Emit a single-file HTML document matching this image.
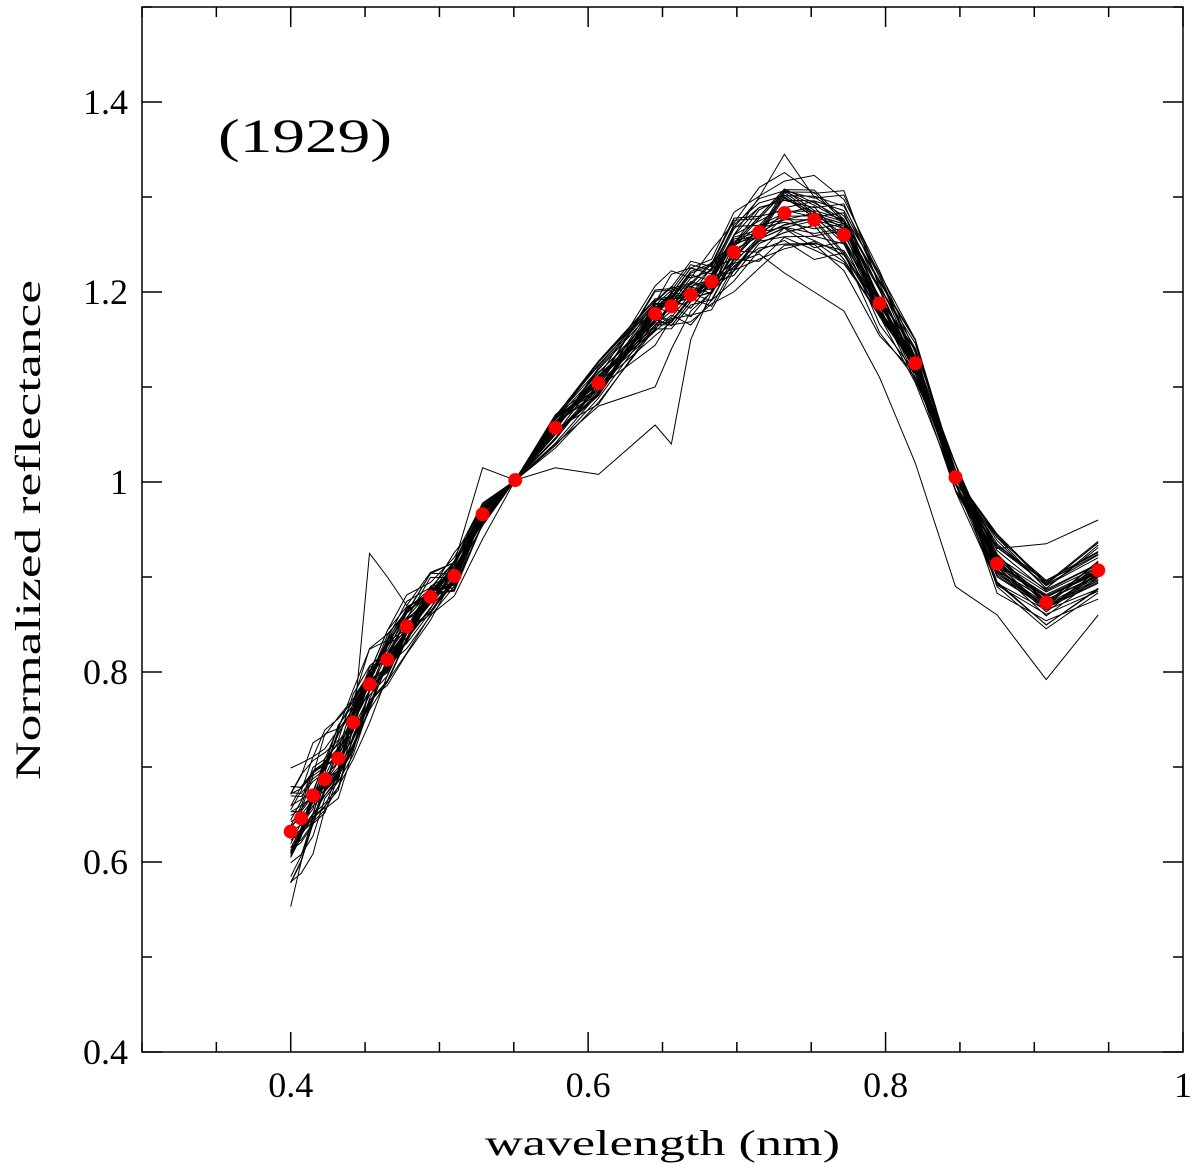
<!DOCTYPE html>
<html><head><meta charset="utf-8"><style>
html,body{margin:0;padding:0;background:#fff;}
svg{display:block;font-family:"Liberation Serif","DejaVu Serif",serif;}
</style></head><body>
<svg id="chart" width="1200" height="1174" viewBox="0 0 1200 1174" xmlns="http://www.w3.org/2000/svg">
<g id="spectra"></g>
<g id="means"></g>
<g id="axes"></g>
<text x="218" y="152" font-size="48" textLength="174" lengthAdjust="spacingAndGlyphs" fill="#000">(1929)</text>
<text x="485" y="1155" font-size="36" textLength="355" lengthAdjust="spacingAndGlyphs" fill="#000">wavelength (nm)</text>
<text transform="translate(40,780) rotate(-90)" font-size="36" textLength="500" lengthAdjust="spacingAndGlyphs" fill="#000">Normalized reflectance</text>
</svg>
<script>
const wavelengths=[0.400,0.407,0.415,0.423,0.432,0.442,0.453,0.465,0.478,0.494,0.510,0.529,0.551,0.578,0.607,0.645,0.656,0.669,0.683,0.698,0.715,0.732,0.752,0.772,0.796,0.820,0.847,0.875,0.908,0.943];
const meanReflectance=[0.632,0.646,0.670,0.687,0.709,0.747,0.787,0.813,0.848,0.879,0.901,0.966,1.002,1.057,1.104,1.177,1.185,1.197,1.211,1.242,1.263,1.283,1.276,1.260,1.188,1.125,1.005,0.914,0.873,0.907];
const spectrumScales=[-0.08,-0.05,-0.03,-0.02,-0.01,0,0.01,0.02,0.03,0.04,0.05,0.07,-0.06,-0.04,0.02,0.06,-0.02,0.0,0.03,-0.07,0.08,-0.03,0.01,0.04,-0.01,0.05,-0.05,0.02,0.0,-0.04,0.015,-0.015,0.035,-0.035,0.045,-0.045,0.025,-0.025,0.005,-0.005];
const noiseRows=[
[2,1,-1,1,0,-2,1,0,-1,1,0,1,0,1,-1,2,1,0,1,-1,0,1,2,0,-1,1,-2,1,2,1],
[-3,-2,0,-1,1,0,-1,2,1,-1,1,0,0,-1,1,-1,0,2,-1,1,1,-1,0,1,2,-1,1,-1,-2,-1],
[1,2,1,0,-1,1,0,-1,0,2,-1,-1,0,1,2,0,-1,1,0,2,-1,0,-1,-1,1,2,0,2,1,2],
[-1,0,2,1,1,-1,-2,1,2,0,1,1,0,-2,-1,1,2,-1,1,0,2,1,-1,2,-1,0,1,-1,0,-1],
[0,-1,-2,2,0,1,2,0,-1,-1,2,-1,0,0,1,-2,1,0,-1,1,0,-1,1,0,1,-1,-1,0,-1,0],
[3,1,0,-1,2,0,-1,1,1,0,-2,0,0,2,0,1,-1,1,2,-1,1,0,2,-1,0,1,2,1,2,1],
[-2,-1,1,0,-1,2,1,-1,0,1,1,-1,0,-1,-2,0,1,-1,0,1,-1,2,0,1,-2,0,-1,-2,-1,-2],
[1,0,-1,2,1,-1,0,2,-1,-1,0,1,0,1,1,-1,0,2,-1,0,1,-1,-1,2,1,-1,0,1,1,0]
];
const outlierA=[0.553,0.600,0.650,0.690,0.720,0.740,0.925,0.900,0.870,0.905,0.915,1.015,1.002,1.015,1.008,1.060,1.040,1.150,1.200,1.230,1.240,1.220,1.200,1.180,1.110,1.020,0.890,0.860,0.792,0.860];
const outlierB=[0.610,0.630,0.650,0.670,0.690,0.720,0.760,0.790,0.820,0.860,0.880,0.940,1.002,1.040,1.080,1.100,1.140,1.180,1.200,1.260,1.300,1.345,1.300,1.280,1.220,1.150,1.010,0.930,0.935,0.960];
const xTicks=[0.4,0.6,0.8,1.0];
const xTickLabels=["0.4","0.6","0.8","1"];
const yTicks=[0.4,0.6,0.8,1.0,1.2,1.4];
const yTickLabels=["0.4","0.6","0.8","1","1.2","1.4"];
const L=142,R=1183,T=7,B=1052;
const X=v=>L+(v-0.3)/0.7*(R-L);
const Y=v=>B-(v-0.4)/1.1*(B-T);
const NS="http://www.w3.org/2000/svg";
function mk(tag,attrs,parent){const e=document.createElementNS(NS,tag);for(const k in attrs)e.setAttribute(k,attrs[k]);parent.appendChild(e);return e;}
const sg=document.getElementById('spectra');
function drawLine(vals,name){
  const d=vals.map((v,i)=>(i?'L':'M')+X(wavelengths[i]).toFixed(1)+' '+Y(v).toFixed(1)).join(' ');
  const p=mk('path',{d:d,fill:'none',stroke:'#000','stroke-width':'1'},sg);
  
  
}
spectrumScales.forEach((s,k)=>{
  const nr=noiseRows[k%noiseRows.length];
  const vals=meanReflectance.map((m,i)=>m+s*(m-1)*1.8+(i===12?0:nr[i]*0.007)+(i>=27?s*0.5:0));
  drawLine(vals,'spectrum-line');
});
drawLine(outlierA,'spectrum-outlier');
drawLine(outlierB,'spectrum-outlier');
const mg=document.getElementById('means');
meanReflectance.forEach((v,i)=>{
  const c=mk('circle',{cx:X(wavelengths[i]),cy:Y(v),r:7,fill:'#ff0000'},mg);
  
  
});
const ag=document.getElementById('axes');
const fr=mk('rect',{x:L,y:T,width:R-L,height:B-T,fill:'none',stroke:'#000','stroke-width':'1.5'},ag);


for(let i=0;i<=14;i++){
  const v=0.3+i*0.05,x=X(v),len=(i%4===2)?20:10;
  mk('line',{x1:x,y1:B,x2:x,y2:B-len,stroke:'#000','stroke-width':'1.5'},ag);
  mk('line',{x1:x,y1:T,x2:x,y2:T+len,stroke:'#000','stroke-width':'1.5'},ag);
}
for(let i=0;i<=11;i++){
  const v=0.4+i*0.1,y=Y(v),len=(i%2===0)?20:10;
  mk('line',{x1:L,y1:y,x2:L+len,y2:y,stroke:'#000','stroke-width':'1.5'},ag);
  mk('line',{x1:R,y1:y,x2:R-len,y2:y,stroke:'#000','stroke-width':'1.5'},ag);
}
xTicks.forEach((v,i)=>{
  const t=mk('text',{x:X(v),y:B+45,'font-size':'36','text-anchor':'middle'},ag);
  t.textContent=xTickLabels[i];
  
  
});
yTicks.forEach((v,i)=>{
  const t=mk('text',{x:L-14,y:Y(v)+12,'font-size':'36','text-anchor':'end'},ag);
  t.textContent=yTickLabels[i];
  
  
});
</script>
</body></html>
